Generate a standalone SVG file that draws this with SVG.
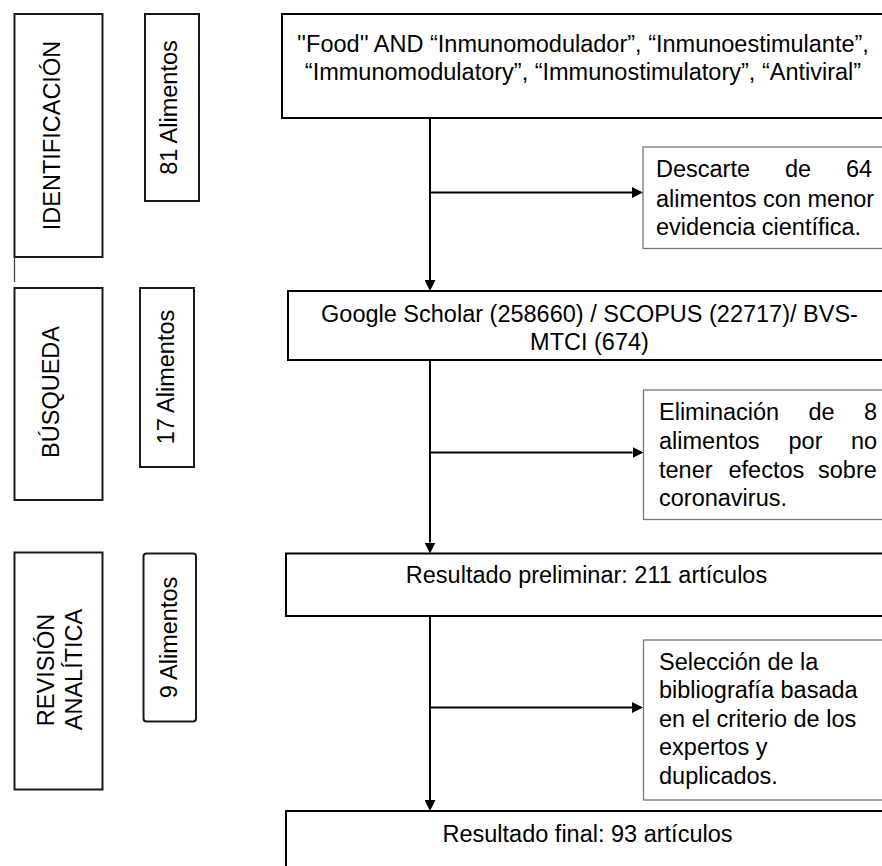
<svg xmlns="http://www.w3.org/2000/svg" width="882" height="866" viewBox="0 0 882 866">
<defs>
<style>
text{font-family:"Liberation Sans",Arial,Helvetica,sans-serif;font-size:23.5px;fill:#000}
.main{fill:#fff;stroke:#000;stroke-width:2}
.side{fill:#fff;stroke:#777;stroke-width:1.3}
.stage{fill:#fff;stroke:#1a1a1a;stroke-width:2}
.conn{fill:none;stroke:#000;stroke-width:2}
.c{text-anchor:middle}
</style>
<marker id="ah" viewBox="0 0 11 11" refX="0" refY="5.5" markerWidth="11" markerHeight="11" markerUnits="userSpaceOnUse" orient="auto"><path d="M0,0 L11,5.5 L0,11 z" fill="#000"/></marker>
</defs>
<rect width="882" height="866" fill="#fff"/>

<g id="stage-identificacion">
<rect class="stage" x="14.5" y="14" width="88" height="243"/>
<text class="c" transform="translate(60,135.5) rotate(-90)">IDENTIFICACIÓN</text>
<line x1="14.5" y1="257" x2="14.5" y2="282" stroke="#444" stroke-width="1.3"/>
</g>
<g id="count-81">
<rect class="stage" x="145" y="14" width="54" height="187"/>
<text class="c" transform="translate(176.5,107.5) rotate(-90)">81 Alimentos</text>
</g>
<g id="stage-busqueda">
<rect class="stage" x="14.5" y="288" width="88" height="212"/>
<text class="c" transform="translate(59,392) rotate(-90)">BÚSQUEDA</text>
</g>
<g id="count-17">
<rect class="stage" x="140" y="288" width="54" height="179"/>
<text class="c" transform="translate(173.5,377) rotate(-90)">17 Alimentos</text>
</g>
<g id="stage-revision">
<rect class="stage" x="14.5" y="552.5" width="88" height="237"/>
<text class="c" transform="translate(53.5,670) rotate(-90)">REVISIÓN</text>
<text class="c" transform="translate(81.5,669.5) rotate(-90)">ANALÍTICA</text>
</g>
<g id="count-9">
<rect class="stage" x="143.5" y="553.5" width="52.5" height="168" rx="3"/>
<text class="c" transform="translate(176.5,637.5) rotate(-90)">9 Alimentos</text>
</g>

<g id="connectors">
<path class="conn" d="M430,118 V280" marker-end="url(#ah)"/>
<path class="conn" d="M430,192.5 H632" marker-end="url(#ah)"/>
<path class="conn" d="M430,360 V542.5" marker-end="url(#ah)"/>
<path class="conn" d="M430,452.5 H632.5" marker-end="url(#ah)"/>
<path class="conn" d="M430,616 V800" marker-end="url(#ah)"/>
<path class="conn" d="M430,707.5 H632" marker-end="url(#ah)"/>
</g>

<g id="search-terms">
<rect class="main" x="282" y="14" width="620" height="104"/>
<text class="c" x="583" y="52">''Food'' AND “Inmunomodulador”, “Inmunoestimulante”,</text>
<text class="c" x="583" y="80">“Immunomodulatory”, “Immunostimulatory”, “Antiviral”</text>
</g>
<g id="discard-64">
<rect class="side" x="643" y="147" width="260" height="101.5"/>
<text x="656" y="177">Descarte</text>
<text x="785" y="177">de</text>
<text x="846" y="177">64</text>
<text x="656" y="206.5">alimentos con menor</text>
<text x="656" y="235">evidencia científica.</text>
</g>
<g id="databases">
<rect class="main" x="288" y="291" width="614" height="69"/>
<text class="c" x="589.5" y="322">Google Scholar (258660) / SCOPUS (22717)/ BVS-</text>
<text class="c" x="589.5" y="349.5">MTCI (674)</text>
</g>
<g id="eliminate-8">
<rect class="side" x="643.5" y="390" width="260" height="129.5"/>
<text x="659" y="419.5">Eliminación</text>
<text x="808.5" y="419.5">de</text>
<text x="864" y="419.5">8</text>
<text x="659" y="448.5">alimentos</text>
<text x="788.5" y="448.5">por</text>
<text x="851" y="448.5">no</text>
<text x="659" y="477.5">tener</text>
<text x="728.5" y="477.5">efectos</text>
<text x="818" y="477.5">sobre</text>
<text x="659" y="506">coronavirus.</text>
</g>
<g id="preliminary">
<rect class="main" x="286" y="553.5" width="616" height="62.5"/>
<text class="c" x="586.5" y="583">Resultado preliminar: 211 artículos</text>
</g>
<g id="selection">
<rect class="side" x="643.5" y="640" width="260" height="160"/>
<text x="659" y="669.5">Selección de la</text>
<text x="659" y="698">bibliografía basada</text>
<text x="659" y="726.5">en el criterio de los</text>
<text x="659" y="755">expertos y</text>
<text x="659" y="783.5">duplicados.</text>
</g>
<g id="final">
<rect class="main" x="286" y="811" width="616" height="70"/>
<text class="c" x="587.5" y="842">Resultado final: 93 artículos</text>
</g>
</svg>
